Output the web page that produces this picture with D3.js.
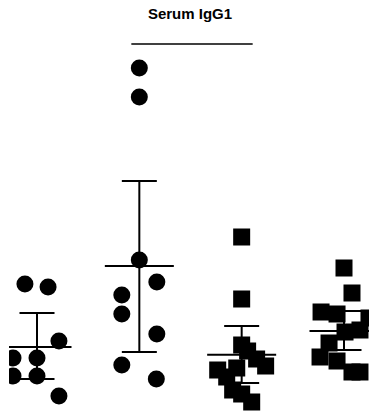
<!DOCTYPE html>
<html>
<head>
<meta charset="utf-8">
<script src="https://cdn.jsdelivr.net/npm/d3@7"></script>
<style>
  html, body { margin: 0; padding: 0; background: #fff; }
  svg { display: block; }
</style>
</head>
<body>
<script>
// Serum IgG1 levels, four groups, individual animals with mean and 95% CI
const title = "Serum IgG1";
const groups = ["A", "B", "C", "D"];
const markers = ["circle", "circle", "square", "square"];

const valuesA = [315, 307.5, 172.5, 130, 130, 85, 85, 35];
const valuesB = [855, 782.5, 375, 320, 287.5, 240, 190, 112.5, 77.5];
const valuesC = [432.5, 277.5, 162.5, 147.5, 127.5, 110, 105, 100, 82.5, 50, 40, 20];
const valuesD = [355, 292.5, 245, 240, 230, 200, 195, 167.5, 132.5, 122.5, 95, 95];

// horizontal scatter offset of each point, in marker widths
const jitterA = [-0.71, 0.65, 1.29, -1.41, 0, -1.41, 0, 1.29];
const jitterB = [0, 0, 0, 1.03, -1.03, -1.03, 1.03, -1.03, 1.0];
const jitterC = [0, 0, 0, 0.35, 0.88, 1.41, -0.29, -1.41, -0.88, -0.53, 0, 0.59];
const jitterD = [0, 0.47, -1.35, -0.41, 1.47, 0.94, 0.06, -0.88, -1.41, -0.41, 0.47, 0.94];

// 95% confidence interval bounds per group
const ciLow = [77.5, 145, 67.5, 150];
const ciHigh = [242.5, 572.5, 210, 247.5];

// significance bracket between groups B and C
const sigFrom = "B";
const sigTo = "C";
const sigLevel = 915;

const allValues = [valuesA, valuesB, valuesC, valuesD];
const allJitter = [jitterA, jitterB, jitterC, jitterD];

const W = 369, H = 412;
const markerSize = 17;
const meanHalf = 34.5;
const capHalf = 17.5;

const svg = d3.select("body").append("svg")
  .attr("width", W).attr("height", H);

const x = d3.scalePoint().domain(groups).range([37, 344]);
const y = d3.scaleLinear().domain([0, 1000]).range([410, 10]);

svg.append("text")
  .attr("x", 190).attr("y", 19)
  .attr("text-anchor", "middle")
  .attr("font-family", "Liberation Sans, Arial, Helvetica, sans-serif")
  .attr("font-weight", "bold")
  .attr("font-size", 15)
  .attr("fill", "#000")
  .text(title);

svg.append("defs").append("clipPath").attr("id", "plotClip")
  .append("rect").attr("x", 9).attr("y", 0).attr("width", W - 9).attr("height", H);

const plot = svg.append("g").attr("clip-path", "url(#plotClip)");

// significance bracket
plot.append("line")
  .attr("x1", x(sigFrom) - 8).attr("x2", x(sigTo) + 11)
  .attr("y1", y(sigLevel)).attr("y2", y(sigLevel))
  .attr("stroke", "#000").attr("stroke-width", 1.6);

groups.forEach((g, i) => {
  const cx = x(g);
  const vals = allValues[i];
  const mean = d3.mean(vals);
  const gg = plot.append("g");

  // error bar
  gg.append("line")
    .attr("x1", cx).attr("x2", cx)
    .attr("y1", y(ciHigh[i])).attr("y2", y(ciLow[i]))
    .attr("stroke", "#000").attr("stroke-width", 2);
  [ciHigh[i], ciLow[i]].forEach(v => {
    gg.append("line")
      .attr("x1", cx - capHalf).attr("x2", cx + capHalf)
      .attr("y1", y(v)).attr("y2", y(v))
      .attr("stroke", "#000").attr("stroke-width", 2);
  });
  // mean
  gg.append("line")
    .attr("x1", cx - meanHalf).attr("x2", cx + meanHalf)
    .attr("y1", y(mean)).attr("y2", y(mean))
    .attr("stroke", "#000").attr("stroke-width", 2);

  // individual points
  const pts = vals.map((v, j) => ({ v, dx: allJitter[i][j] * markerSize }));
  if (markers[i] === "circle") {
    gg.selectAll("circle.pt").data(pts).join("circle")
      .attr("class", "pt")
      .attr("cx", d => cx + d.dx)
      .attr("cy", d => y(d.v))
      .attr("r", markerSize / 2)
      .attr("fill", "#000");
  } else {
    gg.selectAll("rect.pt").data(pts).join("rect")
      .attr("class", "pt")
      .attr("x", d => cx + d.dx - markerSize / 2)
      .attr("y", d => y(d.v) - markerSize / 2)
      .attr("width", markerSize)
      .attr("height", markerSize)
      .attr("fill", "#000");
  }
});
</script>
</body>
</html>
